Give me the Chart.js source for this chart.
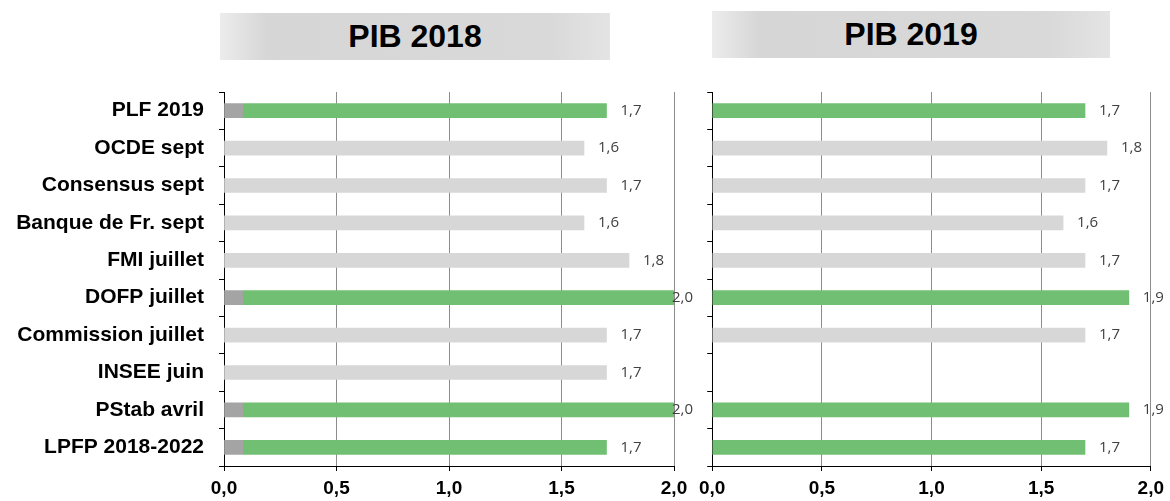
<!DOCTYPE html>
<html>
<head>
<meta charset="utf-8">
<script src="https://cdn.jsdelivr.net/npm/chart.js@4.4.1/dist/chart.umd.min.js"></script>
<style>
    html, body { margin: 0; padding: 0; background: #fff; }
    #wrap { position: relative; width: 1170px; height: 501px; overflow: hidden; }
    .head {
        position: absolute; height: 47px; line-height: 47px; text-align: center;
        font: bold 32px "Liberation Sans", Arial, sans-serif; color: #000;
        background: linear-gradient(to right, #ececec 0%, #d6d6d6 12%, #d9d9d9 85%, #e4e4e4 100%);
    }
    .head span { position: relative; top: 5px; }
    canvas { position: absolute; top: 0; }
</style>
</head>
<body>
<div id="wrap">
    <div class="head" style="left:220px; top:13px; width:390px;"><span>PIB 2018</span></div>
    <div class="head" style="left:712px; top:11px; width:398px;"><span>PIB 2019</span></div>
    <canvas id="chart2018" width="700" height="501" style="left:0; width:700px; height:501px;"></canvas>
    <canvas id="chart2019" width="477" height="501" style="left:693px; width:477px; height:501px;"></canvas>
</div>
<script>
// Prévisions de croissance du PIB (%)
const categories = ['PLF 2019', 'OCDE sept', 'Consensus sept', 'Banque de Fr. sept', 'FMI juillet',
    'DOFP juillet', 'Commission juillet', 'INSEE juin', 'PStab avril', 'LPFP 2018-2022'];
const pib2018 = [1.7, 1.6, 1.7, 1.6, 1.8, 2.0, 1.7, 1.7, 2.0, 1.7];
const pib2019 = [1.7, 1.8, 1.7, 1.6, 1.7, 1.9, 1.7, null, 1.9, 1.7];
// prévisions du gouvernement (barres vertes)
const gouvernement = [true, false, false, false, false, true, false, false, true, true];
const xTicks = [0, 0.5, 1, 1.5, 2];

const GREEN = '#70bf72';
const GREY = '#d7d7d7';
const STUB = '#a4a4a4';
const FONT = '"Liberation Sans", Arial, sans-serif';

const fmt = v => v.toFixed(1).replace('.', ',');

// étiquettes de valeur à droite des barres
const valueLabels = {
    id: 'valueLabels',
    afterDatasetsDraw(chart) {
        const { ctx, chartArea } = chart;
        const meta = chart.getDatasetMeta(0);
        const data = chart.data.datasets[0].data;
        ctx.save();
        ctx.font = '15px "Open Sans", "Liberation Sans", sans-serif';
        ctx.fillStyle = '#404040';
        ctx.textBaseline = 'middle';
        meta.data.forEach((bar, i) => {
            if (data[i] == null) return;
            const x = Math.min(bar.x + 14, chartArea.right - 2);
            ctx.fillText(fmt(data[i]), x, bar.y);
        });
        ctx.restore();
    }
};

function makeChart(id, values, yWidth, padRight, showLabels, stub) {
    const ctx = document.getElementById(id).getContext('2d');
    return new Chart(ctx, {
        type: 'bar',
        data: {
            labels: categories,
            datasets: [{
                data: values,
                backgroundColor: (c) => {
                    const i = c.dataIndex;
                    if (!gouvernement[i]) return GREY;
                    const area = c.chart.chartArea;
                    if (!stub || !area) return GREEN;
                    // petit segment gris au début des barres vertes
                    const g = c.chart.ctx.createLinearGradient(area.left, 0, area.left + 19, 0);
                    g.addColorStop(0, STUB);
                    g.addColorStop(0.99, STUB);
                    g.addColorStop(1, GREEN);
                    return g;
                },
                barThickness: 14,
                borderWidth: 0
            }]
        },
        options: {
            indexAxis: 'y',
            responsive: false,
            animation: false,
            layout: { padding: { top: 92, right: padRight, left: 0, bottom: 0 } },
            plugins: { legend: { display: false }, tooltip: { enabled: false } },
            scales: {
                x: {
                    min: 0,
                    max: 2,
                    afterBuildTicks: (s) => { s.ticks = xTicks.map(v => ({ value: v })); },
                    afterFit: (s) => { s.height = 35; },
                    grid: { color: '#8c8c8c', tickColor: '#000', tickLength: 5 },
                    border: { color: '#000' },
                    ticks: {
                        callback: (v) => fmt(v),
                        color: '#000',
                        padding: 6,
                        font: { family: FONT, size: 19, weight: 'bold' }
                    }
                },
                y: {
                    afterFit: (s) => { s.width = yWidth; },
                    grid: { drawOnChartArea: false, color: '#000', tickLength: 5 },
                    border: { color: '#000' },
                    ticks: {
                        display: showLabels,
                        color: '#000',
                        padding: 15,
                        font: { family: FONT, size: 21, weight: 'bold' }
                    }
                }
            }
        },
        plugins: [valueLabels]
    });
}

makeChart('chart2018', pib2018, 224, 26, true, true);
makeChart('chart2019', pib2019, 12, 17, false, false);
</script>
</body>
</html>
